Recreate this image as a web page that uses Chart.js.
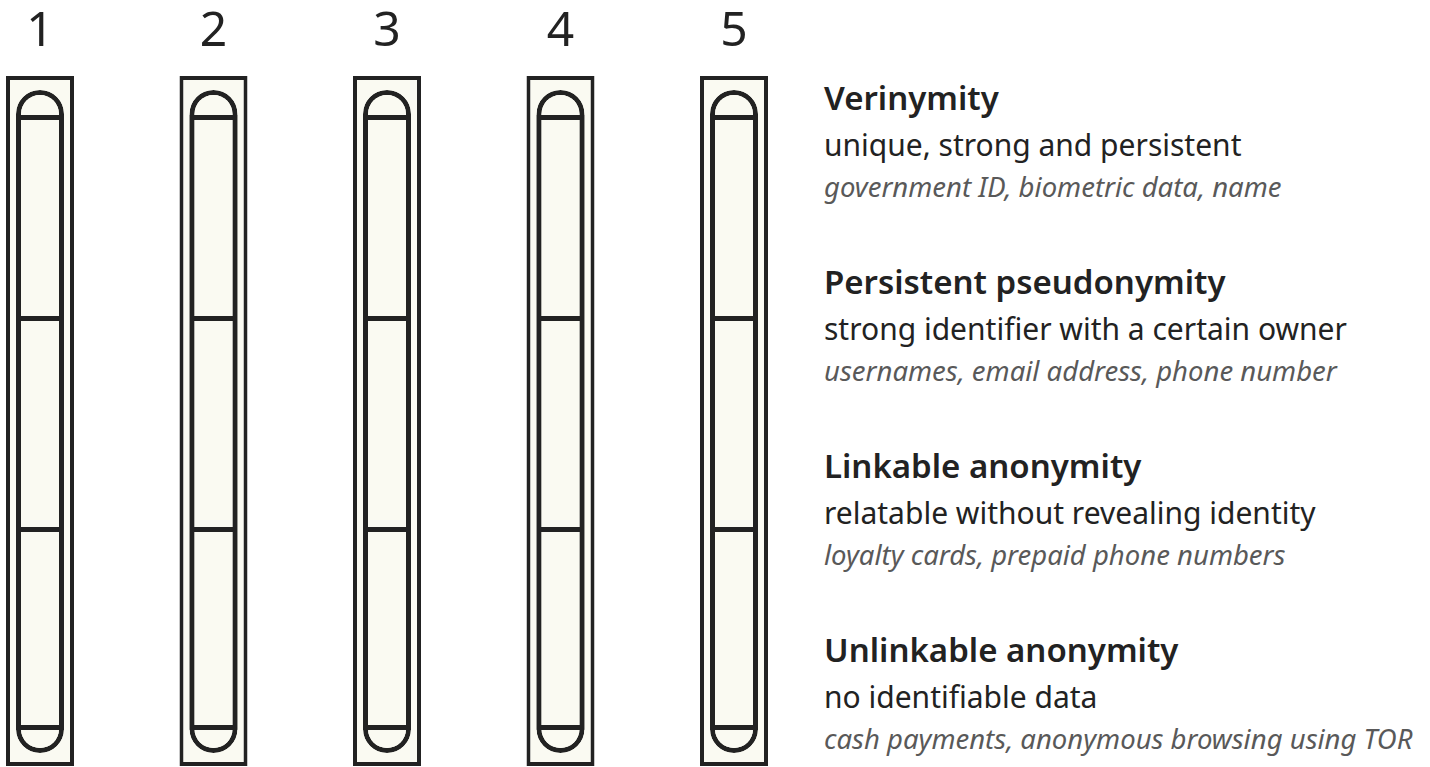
<!DOCTYPE html>
<html>
<head>
<meta charset="utf-8">
<title>Identity levels</title>
<script src="https://cdn.jsdelivr.net/npm/chart.js@4.4.1/dist/chart.umd.min.js"></script>
<style>
  html, body { margin: 0; padding: 0; background: #fff; }
  body { width: 1430px; height: 767px; position: relative; overflow: hidden; font-family: "Noto Sans", sans-serif; color: #222; }
  #wrap { position: absolute; left: 0; top: 0; width: 800px; height: 767px; }
  .level { position: absolute; left: 824px; white-space: nowrap; }
  .level .title { font-size: 33px; font-weight: 600; line-height: 43px; }
  .level .desc { font-size: 30px; line-height: 45px; margin-top: 3px; }
  .level .example { font-size: 27.5px; font-style: italic; color: #595959; line-height: 39px; }
</style>
</head>
<body>
<div id="wrap"><canvas id="chart" width="800" height="767"></canvas></div>
<div id="levels"></div>
<script>
// Columns (tick labels on top)
const COLUMNS = [1, 2, 3, 4, 5];

// Vertical extents (y grows downward)
const CASE_SPAN = [76, 766];
const TUBE_SPAN = [90, 753];
const TUBE_LINES = [115, 316, 527, 730];

// Legend text on the right
const LEVEL_TITLES = ['Verinymity', 'Persistent pseudonymity', 'Linkable anonymity', 'Unlinkable anonymity'];
const LEVEL_DESCS = [
  'unique, strong and persistent',
  'strong identifier with a certain owner',
  'relatable without revealing identity',
  'no identifiable data',
];
const LEVEL_EXAMPLES = [
  'government ID, biometric data, name',
  'usernames, email address, phone number',
  'loyalty cards, prepaid phone numbers',
  'cash payments, anonymous browsing using TOR',
];

const INK = '#222222';
const CREAM = '#fafaf2';

function spanData(span) {
  return COLUMNS.map(x => ({ x, y: span }));
}

// the three tube sections; only the last one closes its bottom edge
const segments = [0, 1, 2].map(i => ({
  label: 'segment ' + (i + 1),
  data: spanData([TUBE_LINES[i], TUBE_LINES[i + 1]]),
  backgroundColor: CREAM,
  borderColor: INK,
  borderWidth: i < 2 ? { top: 5, left: 5, right: 5, bottom: 0 } : 5,
  barThickness: 48,
  order: 1,
}));

const datasets = [
  ...segments,
  {
    label: 'tube',
    data: spanData(TUBE_SPAN),
    backgroundColor: CREAM,
    borderColor: INK,
    borderWidth: 5,
    borderRadius: 24,
    barThickness: 48,
    order: 2,
  },
  {
    label: 'case',
    data: spanData(CASE_SPAN),
    backgroundColor: CREAM,
    borderColor: INK,
    borderWidth: 4,
    barThickness: 68,
    order: 3,
  },
];

// first column centre at 40px, 173.5px between columns, 800px wide plot
const X_MIN = 1 - 40 / 173.5;
const X_MAX = X_MIN + 800 / 173.5;

new Chart(document.getElementById('chart'), {
  type: 'bar',
  data: { datasets },
  options: {
    responsive: false,
    animation: false,
    events: [],
    devicePixelRatio: 1,
    layout: { padding: 0 },
    datasets: {
      bar: { grouped: false, borderSkipped: false, inflateAmount: 0 },
    },
    plugins: {
      legend: { display: false },
      tooltip: { enabled: false },
    },
    scales: {
      x: {
        type: 'linear',
        position: 'top',
        min: X_MIN,
        max: X_MAX,
        offset: false,
        grid: { display: false, drawTicks: false },
        border: { display: false },
        ticks: {
          color: INK,
          padding: 4,
          autoSkip: false,
          maxRotation: 0,
          font: { family: 'Noto Sans', size: 48, lineHeight: 1 },
          callback: v => String(v),
        },
        afterBuildTicks: scale => { scale.ticks = COLUMNS.map(v => ({ value: v })); },
        afterFit: scale => { scale.height = 60; },
      },
      y: {
        display: false,
        reverse: true,
        min: 60,
        max: 767,
      },
    },
  },
});

// Right-hand legend
const levelsEl = document.getElementById('levels');
levelsEl.innerHTML = LEVEL_TITLES.map((t, i) => `
  <div class="level" style="top:${76 + i * 184}px">
    <div class="title">${t}</div>
    <div class="desc">${LEVEL_DESCS[i]}</div>
    <div class="example">${LEVEL_EXAMPLES[i]}</div>
  </div>`).join('');
</script>
</body>
</html>
